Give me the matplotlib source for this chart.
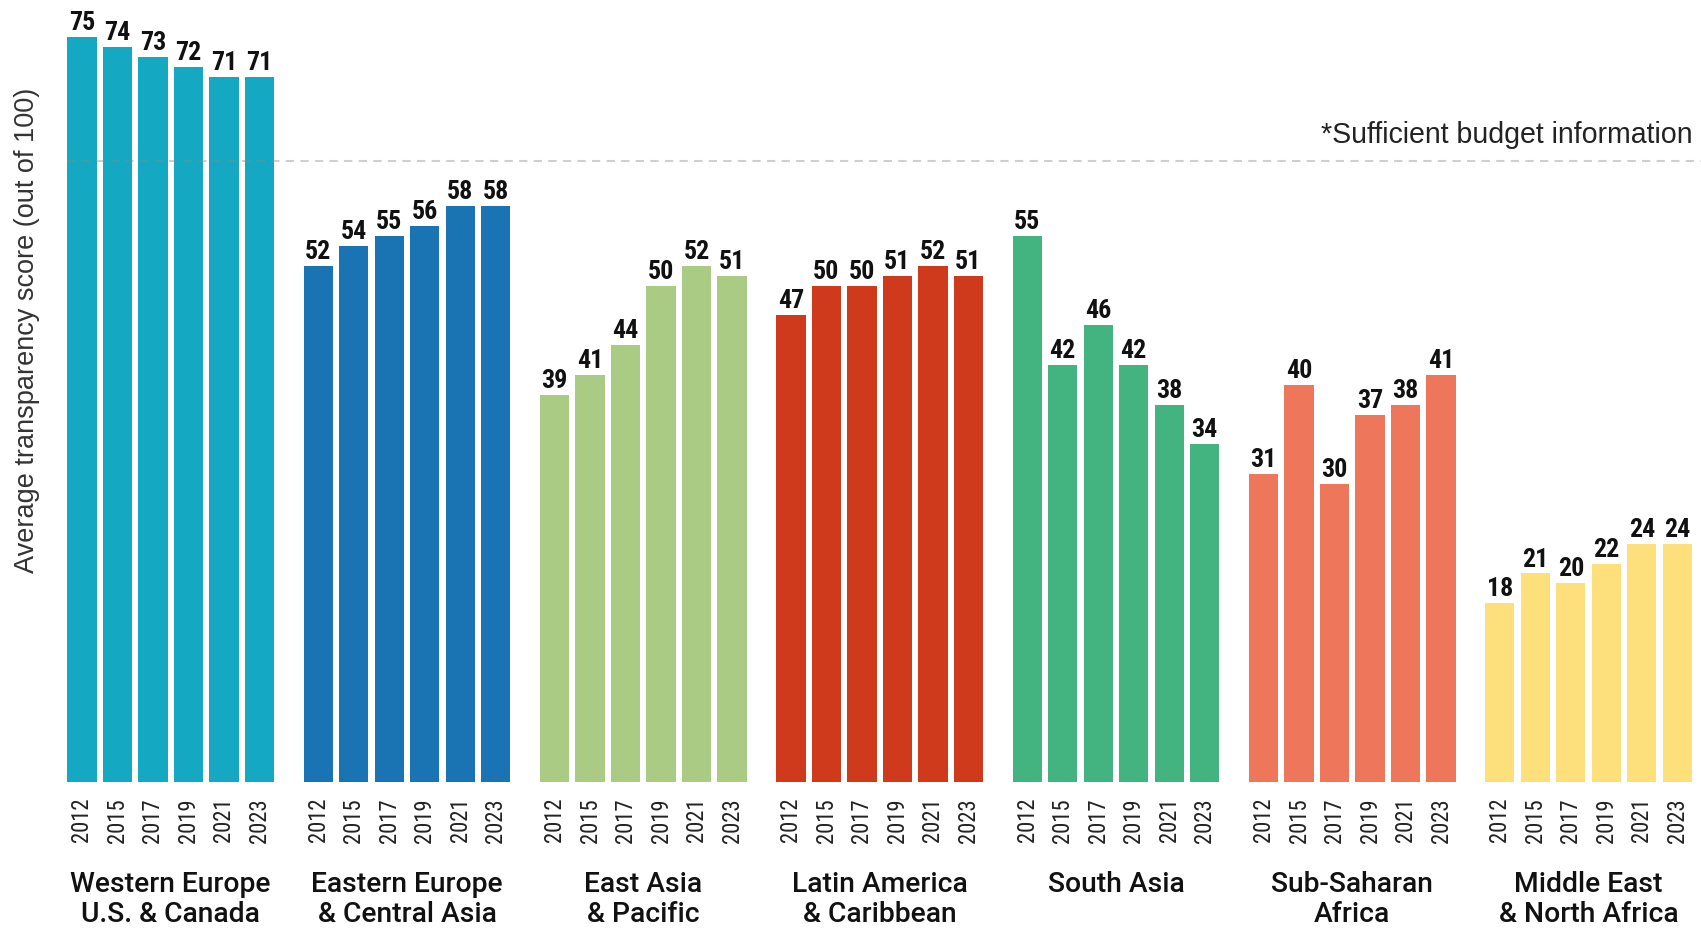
import os
import matplotlib
matplotlib.use("Agg")
import matplotlib.pyplot as plt
from matplotlib import font_manager as fm
from matplotlib.textpath import TextPath

regions = ["Western Europe\nU.S. & Canada", "Eastern Europe\n& Central Asia",
           "East Asia\n& Pacific", "Latin America\n& Caribbean", "South Asia",
           "Sub-Saharan\nAfrica", "Middle East\n& North Africa"]
years = ["2012", "2015", "2017", "2019", "2021", "2023"]

western_europe = [75, 74, 73, 72, 71, 71]
eastern_europe = [52, 54, 55, 56, 58, 58]
east_asia = [39, 41, 44, 50, 52, 51]
latin_america = [47, 50, 50, 51, 52, 51]
south_asia = [55, 42, 46, 42, 38, 34]
sub_saharan = [31, 40, 30, 37, 38, 41]
mena = [18, 21, 20, 22, 24, 24]
series = [western_europe, eastern_europe, east_asia, latin_america,
          south_asia, sub_saharan, mena]

colors = ["#15A8C2", "#1A74B4", "#A9CB83", "#CF3A1D", "#43B380", "#EE775B", "#FDE07B"]
threshold = 62.5
threshold_label = "*Sufficient budget information"
ylabel = "Average transparency score (out of 100)"


# ---- font selection: prefer a condensed sans for numbers ----
def find_condensed(bold):
    prefixes = ["robotocondensed", "liberationsansnarrow", "notosans-condensed",
                "opensans-condensed", "opensans_condensed", "dejavusanscondensed"]
    bad = ["italic", "oblique", "light", "thin", "black", "medium", "semi",
           "extra", "ultra", "demi", "heavy", "serif", "mono"]
    files = [f.fname for f in fm.fontManager.ttflist]
    for pre in prefixes:
        for path in files:
            fn = os.path.basename(path).lower()
            if not fn.startswith(pre):
                continue
            if any(b in fn for b in bad):
                continue
            if bold != ("bold" in fn):
                continue
            return fm.FontProperties(fname=path)
    return fm.FontProperties(family=["Roboto", "DejaVu Sans"],
                             weight="bold" if bold else "normal")


fp_bold = find_condensed(True)
fp_cond = find_condensed(False)
fp_plain = fm.FontProperties(family=["Liberation Sans", "DejaVu Sans"])
fp_medium = fm.FontProperties(family=["Roboto", "DejaVu Sans"], weight=500)

W, H = 1701, 930
fig = plt.figure(figsize=(W / 100, H / 100), dpi=100)


def fit_size(fp, sample, target_px, dim="w"):
    p = fp.copy()
    p.set_size(100)
    ext = TextPath((0, 0), sample, prop=p).get_extents()
    ref = ext.width if dim == "w" else ext.height
    return target_px * 72.0 / ref


def fitted(fp, sample, target_px, dim="w"):
    q = fp.copy()
    q.set_size(fit_size(fp, sample, target_px, dim))
    return q


f_val = fp_bold.copy()
f_val.set_size((fit_size(fp_bold, "75", 19, "h") * fit_size(fp_bold, "75", 24, "w")) ** 0.5)
f_year = fitted(fp_cond, "2012", 43)
f_group = fitted(fp_medium, "Western Europe", 199)
f_note = fitted(fp_plain, threshold_label, 370)
f_ylab = fitted(fp_plain, ylabel, 484)

base_px, top_px = 782, 37.3
left_px, right_px = 67.3, 1692
ax = fig.add_axes([left_px / W, (H - base_px) / H, (right_px - left_px) / W,
                   (base_px - top_px) / H])
ax_h = base_px - top_px

group_pitch = 6.656
width = 0.825
xs_all, labels_all = [], []
for g, (vals, col) in enumerate(zip(series, colors)):
    xs = [g * group_pitch + i for i in range(len(vals))]
    ax.bar(xs, vals, width=width, color=col, zorder=2)
    for x, v in zip(xs, vals):
        ax.annotate(str(v), (x, v), xytext=(0, 5), textcoords="offset points",
                    ha="center", va="baseline", fontproperties=f_val,
                    color="#111111", zorder=4, annotation_clip=False)
    xs_all += xs
    labels_all += years

x0 = -width / 2
x1 = (len(series) - 1) * group_pitch + len(years) - 1 + width / 2
ax.set_xlim(x0, x1)
ax.set_ylim(0, 75)

units_per_px = (x1 - x0) / (right_px - left_px)
xr = x1 + (W - right_px) * units_per_px
ax.plot([x0, xr], [threshold, threshold], color="#888888", alpha=0.4,
        lw=1.5, dashes=(4, 3), clip_on=False, zorder=3)
ax.text(x1 + (1693 - right_px) * units_per_px, (base_px - 143) / ax_h * 75,
        threshold_label, ha="right", va="baseline", fontproperties=f_note,
        color="#222222", clip_on=False)

ax.set_xticks(xs_all)
ax.set_xticklabels(labels_all, rotation=90, fontproperties=f_year, color="#222222")
ax.tick_params(axis="x", length=0, pad=11.5)
ax.set_yticks([])
for s in ax.spines.values():
    s.set_visible(False)

for g, name in enumerate(regions):
    cx = g * group_pitch + (len(years) - 1) / 2
    for k, line in enumerate(name.split("\n")):
        y_px = 892 + 30 * k
        ax.text(cx, (base_px - y_px) / ax_h, line,
                transform=ax.get_xaxis_transform(), ha="center", va="baseline",
                fontproperties=f_group, color="#111111", clip_on=False)

fig.text(27 / W, 1 - 330 / H, ylabel, rotation=90, ha="center", va="center",
         fontproperties=f_ylab, color="#333333")

fig.savefig("out.png", dpi=100)
